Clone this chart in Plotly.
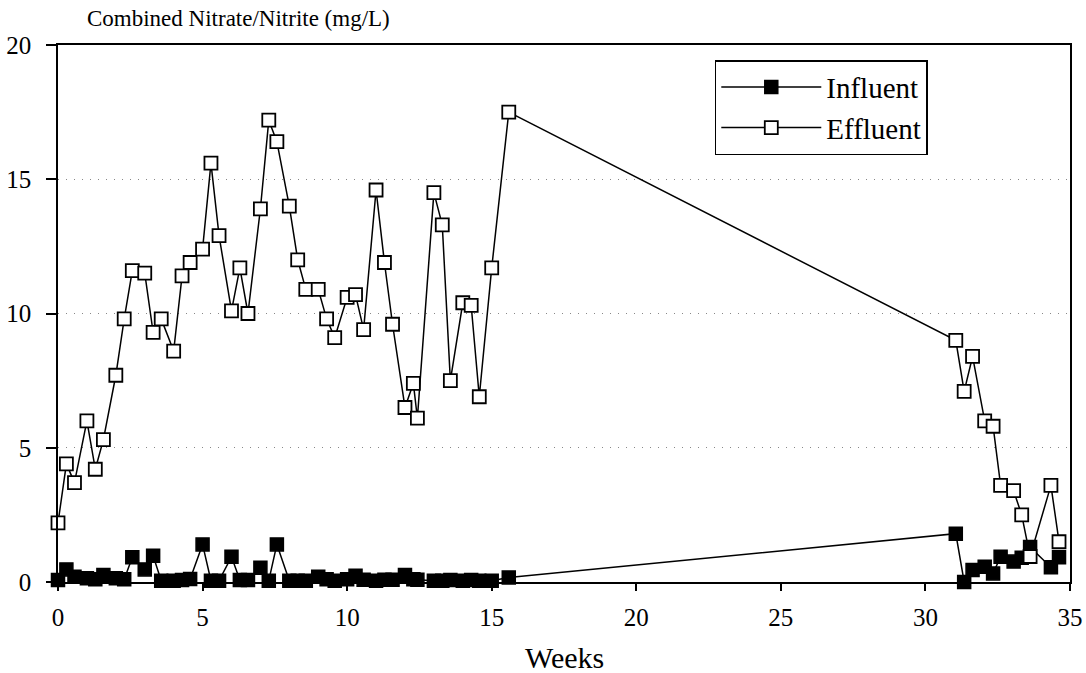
import plotly.graph_objects as go

# Sampling times (weeks) - shared by both series
weeks = [0, 0.29, 0.57, 1.0, 1.29, 1.57, 2.0, 2.29, 2.57, 3.0, 3.29, 3.57,
         4.0, 4.29, 4.57, 5.0, 5.29, 5.57, 6.0, 6.29, 6.57, 7.0, 7.29, 7.57,
         8.0, 8.29, 8.57, 9.0, 9.29, 9.57, 10.0, 10.29, 10.57, 11.0, 11.29, 11.57,
         12.0, 12.29, 12.43, 13.0, 13.29, 13.57, 14.0, 14.29, 14.57, 15.0, 15.59,
         31.05, 31.34, 31.63, 32.05, 32.34, 32.6, 33.05, 33.33, 33.62, 34.34, 34.62]

effluent = [2.2, 4.4, 3.7, 6.0, 4.2, 5.3, 7.7, 9.8, 11.6, 11.5, 9.3, 9.8,
            8.6, 11.4, 11.9, 12.4, 15.6, 12.9, 10.1, 11.7, 10.0, 13.9, 17.2, 16.4,
            14.0, 12.0, 10.9, 10.9, 9.8, 9.1, 10.6, 10.7, 9.4, 14.6, 11.9, 9.6,
            6.5, 7.4, 6.1, 14.5, 13.3, 7.5, 10.4, 10.3, 6.9, 11.7, 17.5,
            9.0, 7.1, 8.4, 6.0, 5.8, 3.6, 3.4, 2.5, 0.95, 3.6, 1.5]

influent = [0.07, 0.47, 0.2, 0.14, 0.1, 0.26, 0.14, 0.1, 0.92, 0.47, 0.98, 0.05,
            0.05, 0.07, 0.11, 1.4, 0.05, 0.05, 0.94, 0.07, 0.07, 0.53, 0.05, 1.4,
            0.05, 0.05, 0.05, 0.2, 0.1, 0.05, 0.1, 0.23, 0.08, 0.05, 0.08, 0.08,
            0.26, 0.1, 0.08, 0.05, 0.05, 0.07, 0.05, 0.07, 0.05, 0.05, 0.17,
            1.8, 0.0, 0.45, 0.57, 0.32, 0.94, 0.76, 0.9, 1.3, 0.55, 0.92]

x_ticks = [0, 5, 10, 15, 20, 25, 30, 35]
y_ticks = [0, 5, 10, 15, 20]

FONT = "Liberation Serif"

fig = go.Figure()
fig.add_trace(go.Scatter(
    x=weeks, y=influent, name="Influent", mode="lines+markers",
    line=dict(color="black", width=1.5),
    marker=dict(symbol="square", size=13, color="black",
                line=dict(color="black", width=1.5)),
    cliponaxis=False,
))
fig.add_trace(go.Scatter(
    x=weeks, y=effluent, name="Effluent", mode="lines+markers",
    line=dict(color="black", width=1.5),
    marker=dict(symbol="square", size=13, color="white",
                line=dict(color="black", width=1.8)),
    cliponaxis=False,
))

fig.update_layout(
    width=1086, height=673,
    margin=dict(l=58, r=16, t=45, b=91, autoexpand=False),
    plot_bgcolor="white", paper_bgcolor="white",
    font=dict(family=FONT, size=24, color="black"),
    showlegend=True,
    legend=dict(
        x=0.649, y=0.972, xanchor="left", yanchor="top",
        bordercolor="black", borderwidth=1.5, bgcolor="white",
        font=dict(family=FONT, size=29, color="black"),
        itemwidth=100, tracegroupgap=0,
    ),
    xaxis=dict(
        range=[0, 35], tickvals=x_ticks, ticktext=[str(v) for v in x_ticks],
        showline=True, linecolor="black", linewidth=1.5, mirror=True,
        ticks="outside", ticklen=7, tickwidth=1.5, tickcolor="black",
        ticklabelstandoff=5, automargin=False,
        showgrid=False, zeroline=False,
        tickfont=dict(family=FONT, size=25),
    ),
    yaxis=dict(
        range=[0, 20], tickvals=y_ticks, ticktext=[str(v) for v in y_ticks],
        showline=True, linecolor="black", linewidth=1.5, mirror=True,
        ticks="outside", ticklen=10, tickwidth=1.5, tickcolor="black",
        ticklabelstandoff=10, automargin=False,
        showgrid=True, gridcolor="#888888", gridwidth=1, griddash="1px,7px",
        zeroline=False,
        tickfont=dict(family=FONT, size=25),
    ),
    annotations=[
        dict(text="Combined Nitrate/Nitrite (mg/L)", xref="paper", yref="paper",
             x=0.027, y=1.05, xanchor="left", yanchor="middle", showarrow=False,
             font=dict(family=FONT, size=23, color="black")),
        dict(text="Weeks", xref="paper", yref="paper",
             x=0.5, y=-0.1415, xanchor="center", yanchor="middle", showarrow=False,
             font=dict(family=FONT, size=30, color="black")),
    ],
)

fig.write_html("out.html")
